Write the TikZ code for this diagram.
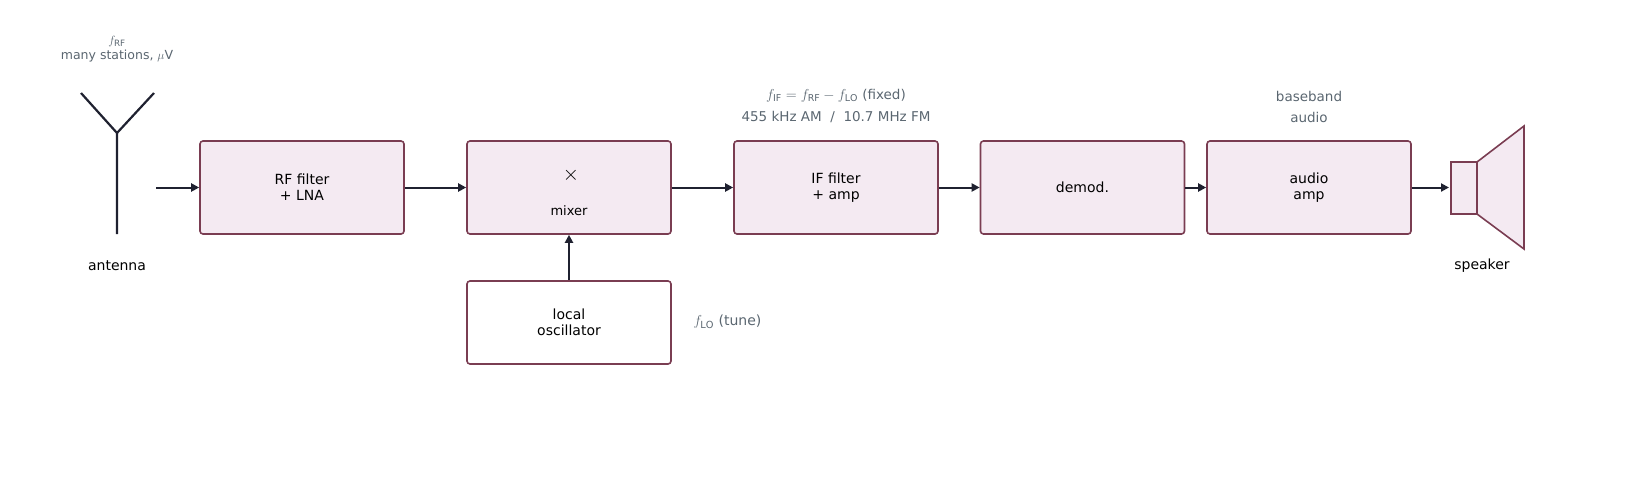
\documentclass[tikz,border=0pt]{standalone}
\usepackage{fontspec}
\setmainfont{DejaVu Sans}
\usetikzlibrary{arrows.meta}
\definecolor{edge}{HTML}{7A3D52}
\definecolor{boxfill}{HTML}{F4EAF2}
\definecolor{note}{HTML}{5A6670}
\definecolor{ink}{HTML}{1F2130}
\tikzset{x=1pt,y=-1pt,
 blk/.style={draw=edge,line width=1.6pt,fill=boxfill,rounded corners=3pt,minimum width=204pt,minimum height=93pt,align=center,font=\fontsize{14}{16}\selectfont},
 notetext/.style={text=note,align=center,font=\fontsize{12.5}{15}\selectfont},
 lbl/.style={align=center,font=\fontsize{14}{16}\selectfont},
 flow/.style={draw=ink,line width=2pt,-{Triangle[length=8pt,width=8pt]}}}
\begin{document}
\begin{tikzpicture}
\useasboundingbox (0,0) rectangle (1650,480);
\draw[ink,line width=2.2pt] (81,93) -- (117,133) -- (154,93) (117,133) -- (117,234);
\coordinate (antout) at (156,187.5);
\node[notetext] (frf) at (117,49) {$f_{\mathrm{RF}}$\\many stations, $\mu$V};
\node[lbl] (antlbl) at (117,266) {antenna};
\node[blk] (rf) at (302,187.5) {RF filter\\+ LNA};
\node[blk] (mix) at (569,187.5) {};
\node[font=\fontsize{22}{22}\selectfont] (x) at (571,175) {$\times$};
\node[font=\fontsize{13}{15}\selectfont] (mixl) at (569,211) {mixer};
\node[blk] (iff) at (836,187.5) {IF filter\\+ amp};
\node[blk] (dem) at (1082.5,187.5) {demod.};
\node[blk] (aud) at (1309,187.5) {audio\\amp};
\node[blk,fill=white,minimum height=83pt] (lo) at (569,322.5) {local\\oscillator};
\node[notetext,anchor=west,font=\fontsize{14}{16}\selectfont] (flo) at (690,322) {$f_{\mathrm{LO}}$ (tune)};
\node[notetext,font=\fontsize{13.5}{22}\selectfont] (ifn) at (836,106) {$f_{\mathrm{IF}}=f_{\mathrm{RF}}-f_{\mathrm{LO}}$ (fixed)\\455 kHz AM \ / \ 10.7 MHz FM};
\node[notetext,font=\fontsize{13.5}{21}\selectfont] (bb) at (1309,107) {baseband\\audio};
\draw[draw=edge,fill=boxfill,line width=1.6pt] (1451,162) rectangle (1477,214);
\draw[draw=edge,fill=boxfill,line width=1.6pt,line join=miter] (1477,162) -- (1524,126) -- (1524,249) -- (1477,214) -- cycle;
\coordinate (spk) at (1449,187.5);
\node[lbl] (spkl) at (1482,266) {speaker};
\draw[flow] (antout) -- (rf);
\draw[flow] (rf) -- (mix);
\draw[flow] (mix) -- (iff);
\draw[flow] (iff) -- (dem);
\draw[flow] (dem) -- (aud);
\draw[flow] (aud.east) -- (spk);
\draw[flow] (lo) -- (mix);
\end{tikzpicture}
\end{document}
